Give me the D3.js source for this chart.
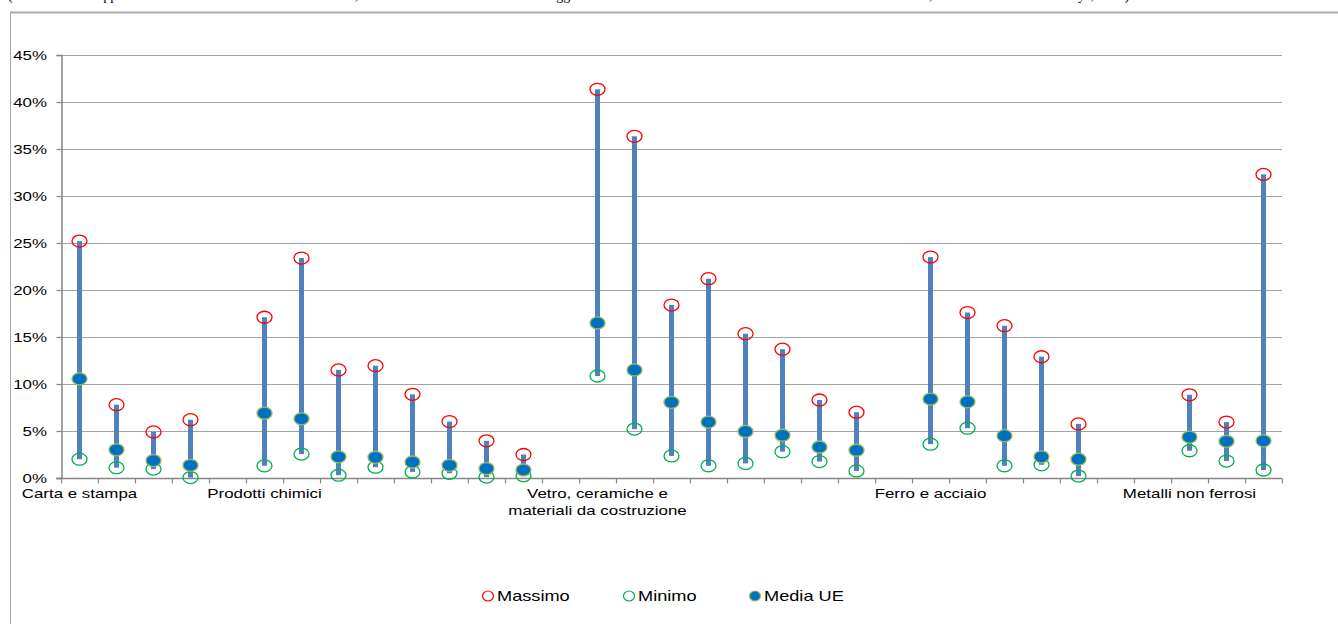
<!DOCTYPE html>
<html>
<head>
<meta charset="utf-8">
<script src="https://cdn.jsdelivr.net/npm/d3@7"></script>
<style>
  html, body { margin: 0; padding: 0; background: #ffffff; }
  svg { display: block; }
  text { font-family: Arial, "Liberation Sans", sans-serif; fill: #000; }
</style>
</head>
<body>
<svg id="chart" width="1338" height="624"></svg>
<script>
// ---- data (percent values) ----
const categories = ["Carta e stampa", "", "", "", "", "Prodotti chimici", "", "", "", "", "", "", "", "",
  "Vetro, ceramiche e|materiali da costruzione", "", "", "", "", "", "", "", "",
  "Ferro e acciaio", "", "", "", "", "", "", "Metalli non ferrosi", "", ""];
const massimo = [25.2, 7.8, 4.9, 6.2, null, 17.1, 23.4, 11.5, 11.95, 8.9, 6.0, 3.95, 2.5, null,
  41.35, 36.35, 18.4, 21.2, 15.35, 13.7, 8.3, 7.0, null,
  23.5, 17.6, 16.2, 12.9, 5.75, null, null, 8.85, 5.95, 32.3];
const minimo = [2.0, 1.1, 0.95, 0.05, null, 1.3, 2.55, 0.3, 1.15, 0.65, 0.5, 0.1, 0.25, null,
  10.85, 5.2, 2.35, 1.3, 1.55, 2.8, 1.75, 0.75, null,
  3.6, 5.3, 1.3, 1.4, 0.2, null, null, 2.9, 1.8, 0.85];
const mediaUE = [10.55, 3.0, 1.85, 1.35, null, 6.9, 6.3, 2.25, 2.2, 1.7, 1.35, 1.0, 0.85, null,
  16.5, 11.5, 8.05, 5.95, 4.95, 4.55, 3.3, 2.95, null,
  8.4, 8.1, 4.5, 2.25, 2.0, null, null, 4.35, 3.9, 3.95];
const yTicks = [0, 5, 10, 15, 20, 25, 30, 35, 40, 45];
const legendItems = ["Massimo", "Minimo", "Media UE"];
const topNote = "(Costi stimati e approssimati dei costi indiretti delle emissioni, in termini di incidenza sul valore aggiunto lordo dei settori industriali Ue a rischio di rilocalizzazione, elaborazione su dati Ecorys, 2011)";

// ---- layout ----
const SX = 1.3; // horizontal stretch of the original picture
const svg = d3.select("#chart");
const x = d3.scaleBand().domain(d3.range(categories.length)).range([61, 1282]).padding(0);
const y = d3.scaleLinear().domain([0, 45]).range([478, 55]);
const cx = i => x(i) + x.bandwidth() / 2;

function stretchedText(g, tx, ty, str, anchor, size) {
  return g.append("text")
    .attr("transform", `translate(${tx},${ty}) scale(${SX},1)`)
    .attr("text-anchor", anchor)
    .style("font-size", size + "px")
    .text(str);
}

// cut-off note at the very top
svg.append("text").attr("x", 8).attr("y", -0.5)
  .style("font-family", "'Liberation Serif', 'Times New Roman', serif")
  .style("font-size", "14px").text(topNote);

// chart frame
svg.append("line").attr("x1", 10).attr("x2", 1338).attr("y1", 12.5).attr("y2", 12.5)
  .attr("stroke", "#a9a9a9").attr("stroke-width", 2);
svg.append("line").attr("x1", 10.5).attr("x2", 10.5).attr("y1", 12).attr("y2", 624)
  .attr("stroke", "#a9a9a9").attr("stroke-width", 1);

// gridlines
svg.append("g").selectAll("line").data(yTicks.filter(d => d > 0)).join("line")
  .attr("x1", 61).attr("x2", 1282)
  .attr("y1", d => Math.round(y(d)) + 0.5).attr("y2", d => Math.round(y(d)) + 0.5)
  .attr("stroke", "#a3a3a3").attr("stroke-width", 1.2);

// y axis
const yAxis = svg.append("g").attr("transform", "translate(61.5,0)")
  .call(d3.axisLeft(y).tickValues(yTicks).tickSize(5).tickFormat(""));
yAxis.select(".domain").attr("stroke", "#868686").attr("stroke-width", 1.5);
yAxis.selectAll(".tick line").attr("stroke", "#868686").attr("stroke-width", 1.2);
const yl = svg.append("g");
yTicks.forEach(t => stretchedText(yl, 47, y(t) + 4.5, t + "%", "end", 13));

// x axis
const xAxisG = svg.append("g").attr("transform", "translate(0,478.5)");
xAxisG.append("line").attr("x1", 56).attr("x2", 1282).attr("y1", 0).attr("y2", 0)
  .attr("stroke", "#868686").attr("stroke-width", 1.5);
xAxisG.selectAll("line.tk").data(d3.range(categories.length + 1)).join("line").attr("class", "tk")
  .attr("x1", i => Math.round(i < categories.length ? x(i) : x(categories.length - 1) + x.bandwidth()) + 0.5)
  .attr("x2", i => Math.round(i < categories.length ? x(i) : x(categories.length - 1) + x.bandwidth()) + 0.5)
  .attr("y1", 0).attr("y2", 5).attr("stroke", "#868686").attr("stroke-width", 1.2);
const xl = svg.append("g");
categories.forEach((c, i) => {
  if (!c) return;
  c.split("|").forEach((line, k) => stretchedText(xl, cx(i), 498 + k * 17, line, "middle", 13));
});

// bars (min -> max)
const idx = d3.range(categories.length).filter(i => massimo[i] != null);
svg.append("g").selectAll("rect").data(idx).join("rect")
  .attr("x", i => cx(i) - 2.5).attr("width", 5)
  .attr("y", i => y(massimo[i])).attr("height", i => y(minimo[i]) - y(massimo[i]))
  .attr("fill", "#4f81bd");

// markers
svg.append("g").selectAll("ellipse").data(idx).join("ellipse")
  .attr("cx", cx).attr("cy", i => y(massimo[i])).attr("rx", 7.5).attr("ry", 6)
  .attr("fill", "none").attr("stroke", "#ff0000").attr("stroke-width", 1.3);
svg.append("g").selectAll("ellipse").data(idx).join("ellipse")
  .attr("cx", cx).attr("cy", i => y(minimo[i])).attr("rx", 7.5).attr("ry", 6)
  .attr("fill", "none").attr("stroke", "#00b050").attr("stroke-width", 1.3);
svg.append("g").selectAll("ellipse").data(idx).join("ellipse")
  .attr("cx", cx).attr("cy", i => y(mediaUE[i])).attr("rx", 7.5).attr("ry", 6)
  .attr("fill", "#0070c0").attr("stroke", "#9bbb59").attr("stroke-width", 1.3);

// legend
const legX = [488, 629, 755];
const lg = svg.append("g");
legendItems.forEach((name, k) => {
  const e = lg.append("ellipse").attr("cx", legX[k]).attr("cy", 596).attr("rx", 5.5).attr("ry", 5);
  if (k === 0) e.attr("fill", "none").attr("stroke", "#ff0000").attr("stroke-width", 1.2);
  if (k === 1) e.attr("fill", "none").attr("stroke", "#00b050").attr("stroke-width", 1.2);
  if (k === 2) e.attr("fill", "#0070c0").attr("stroke", "#9bbb59").attr("stroke-width", 1.2);
  stretchedText(lg, legX[k] + 9, 601, name, "start", 14);
});
</script>
</body>
</html>
